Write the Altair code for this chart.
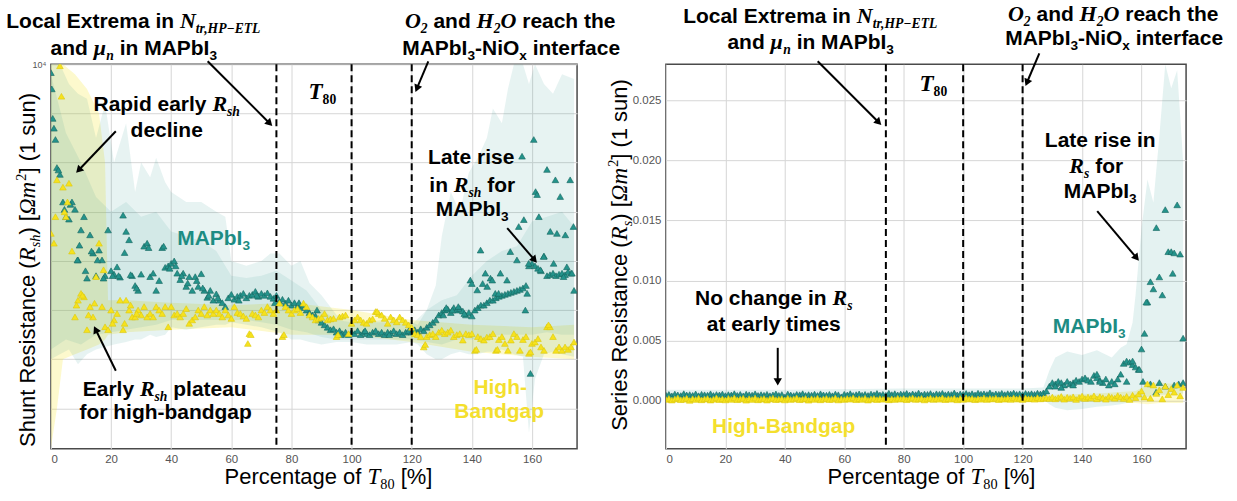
import math
import altair as alt
import pandas as pd

# ------------------------------------------------------------------ data
X = list(range(175))

# left panel: log10 of shunt resistance, one triangle per x (0..174)
rsh_mapbi3_log = [
    3.83, 2.7, 1.9, 1.76, 1.2, 0.9, 0.85, 1.2, 1.05, 0.02,
    0.63, 0.9, -0.35, 0.53, 0.16, -0.3, 0.22, 0.02, -0.3, 0.63,
    -0.2, -0.27, -0.12, -0.33, 0.93, 0.6, 0.43, -0.3, -0.5, -0.6,
    -0.27, 0.3, 0.36, -0.32, -0.25, -0.6, -0.4, 0.27, -0.13, -0.1,
    -0.05, 0.0, -0.25, -0.38, -0.25, -0.52, -0.32, -0.6, -0.32, -0.52,
    -0.26, -0.6, -0.74, -0.6, -0.8, -0.67, -0.8, -0.85, -0.93, -0.75,
    -0.68, -0.78, -0.72, -0.7, -0.66, -0.75, -0.7, -0.68, -0.62, -0.72,
    -0.66, -0.7, -0.65, -0.72, -0.76, -0.7, -0.82, -0.78, -0.86, -0.8,
    -0.9, -0.85, -0.92, -0.95, -0.9, -1.0, -1.05, -1.1, -1.12, -1.2,
    -1.25, -1.3, -1.35, -1.4, -1.38, -1.45, -1.42, -1.48, -1.45, -1.5,
    -1.45, -1.48, -1.42, -1.5, -1.45, -1.48, -1.5, -1.45, -1.42, -1.48,
    -1.45, -1.5, -1.45, -1.47, -1.42, -1.48, -1.45, -1.5, -1.45, -1.42,
    -1.45, -1.4, -1.45, -1.38, -1.42, -1.35, -1.3, -1.25, -1.2, -1.1,
    -1.05, -1.0, -0.98, -1.05, -0.95, -1.0, -0.97, -1.02, -1.1, -1.05,
    -1.12, -1.0, -0.95, -0.9, -0.9, -0.85, -0.8, -0.8, -0.75, -0.72,
    -0.7, -0.68, -0.66, -0.64, -0.62, -0.6, -0.58, -0.55, -0.5, -0.1,
    -0.05, -0.1, -0.15, -0.2, 0.1, -0.3, -0.28, -0.25, -0.3, -0.27,
    -0.25, -0.28, -0.22, -0.25, -0.6,
]
rsh_hbg_log = [
    0.56, 0.36, 1.65, 3.97, 1.5, 0.9, 1.58, 0.2, -1.14, -0.8,
    -0.66, -0.73, -1.4, -0.93, -1.14, -0.32, 0.36, -0.93, -1.34, -1.4,
    -1.0, -1.2, -1.07, -0.8, -1.4, -0.8, -1.0, -1.14, -1.14, -1.0,
    -1.1, -0.93, -1.14, -1.07, -1.14, -0.93, -1.0, -1.07, -0.93, -1.34,
    -0.93, -1.1, -1.07, -1.14, -1.07, -0.97, -1.27, -1.2, -1.14, -1.0,
    -1.07, -0.93, -1.1, -1.0, -1.07, -1.0, -1.07, -1.14, -1.0, -1.1,
    -1.17, -0.93, -1.05, -1.07, -1.12, -1.17, -1.48, -1.07, -1.1, -1.14,
    -1.0, -1.05, -0.93, -1.0, -1.07, -1.0, -0.86, -1.54, -0.93, -1.0,
    -1.07, -1.0, -0.97, -1.05, -0.86, -0.93, -1.1, -1.14, -1.2, -1.17,
    -1.15, -1.07, -1.2, -1.18, -1.17, -1.54, -1.14, -1.12, -1.1, -1.48,
    -1.27, -1.2, -1.14, -1.2, -1.25, -1.27, -1.2, -1.18, -1.03, -1.07,
    -1.1, -1.17, -1.27, -1.14, -1.2, -1.24, -1.14, -1.2, -1.25, -1.3,
    -1.35, -1.48, -1.5, -1.54, -1.75, -1.54, -1.5, -1.48, -1.54, -1.45,
    -1.41, -1.48, -1.45, -1.41, -1.54, -1.5, -1.48, -1.61, -1.48, -1.5,
    -1.48, -1.82, -1.54, -1.58, -1.61, -1.55, -1.54, -1.48, -1.82, -1.6,
    -1.54, -1.68, -1.82, -1.61, -1.48, -1.54, -1.82, -1.6, -1.54, -1.88,
    -1.68, -1.65, -1.58, -1.75, -1.82, -1.34, -1.34, -1.54, -1.82, -1.75,
    -1.82, -1.75, -1.8, -1.75, -1.65,
]
# extra scattered triangles (x, log10 value)
rsh_mapbi3_extra_x = [0.3, 0.6, 1.5, 2.5, 4.5, 6.5, 8.8, 9.5, 11.5, 13.5, 15.5, 17.5, 20.5, 22.5, 24.5,
                      26.5, 28.5, 32.5, 37.5, 39.5, 41.5, 43.5, 45.5, 48.5, 50.5, 52.5, 55.5, 62.5, 68.5,
                      74.5, 82.5, 88.5, 96.5, 104.5, 112.5, 130.5, 131.5, 133.5, 135.5, 137.5, 139.5, 140.0,
                      141.8, 142.9, 143.6, 144.5, 145.1, 146.2, 146.8, 147.8, 148.9, 149.5, 151.7, 152.8,
                      155.0, 155.6, 156.7, 157.3, 157.8, 158.4, 158.9, 159.5, 160.6, 161.2, 161.7, 162.3,
                      162.8, 163.9, 165.0, 166.1, 167.2, 167.8, 168.3, 169.4, 170.5, 171.1, 171.6, 172.7,
                      173.3, 173.8]
rsh_mapbi3_extra_log = [3.5, 2.9, 2.47, 1.85, 1.05, 1.15, 0.02, 0.32, -0.2, 0.2, 0.02, -0.35, -0.3, -0.3, 0.17,
                        -0.28, -0.55, 0.27, 0.3, -0.15, -0.1, -0.3, -0.45, -0.4, -0.55, -0.7, -0.75, -0.8, -0.7,
                        -0.85, -0.85, -1.0, -1.5, -1.42, -1.5, -1.1, -0.95, -1.0, -0.93, -1.07, -0.39, -0.46,
                        -0.59, 0.22, -0.46, -0.25, -0.52, -0.35, -0.39, -0.66, -0.66, -0.25, -0.39, 0.19,
                        0.02, 0.7, 2.13, 0.84, -1.0, -0.66, -0.05, -2.29, 2.47, 1.41, 1.35, 0.9,
                        -0.18, 0.09, 1.86, 0.6, -0.05, 1.65, 0.56, 1.31, -0.32, 0.53, -0.12, 1.65,
                        -0.25, 0.7]
rsh_hbg_extra_x = [1.5, 3.5, 4.5, 5.5, 8.5, 10.5, 12.5, 14.5, 17.5, 20.5, 24.5, 26.5, 28.5, 65.5, 66.5,
                   77.5, 95.5, 108.5, 124.5, 141.5, 148.5, 159.5, 165.5]
rsh_hbg_extra_log = [0.9, 3.35, 1.0, 1.2, -0.9, -0.7, -1.1, -0.86, -0.18, -1.27, -1.27, -0.9, -1.07, -1.68, -1.5,
                     -1.5, -1.5, -1.03, -1.7, -1.8, -1.8, -1.85, -1.3]

# left shaded spreads (log10)
rsh_mapbi3_outer_x = [0, 3, 6, 9, 12, 15, 18, 21, 25, 28, 30, 33, 35, 38, 40, 45, 50, 55, 58, 60, 65, 70, 73, 76,
                      80, 83, 86, 90, 95, 100, 105, 110, 115, 120, 122, 125, 128, 130, 133, 136, 139, 142, 145,
                      147, 150, 152, 154, 157, 159, 161, 164, 167, 170, 174]
rsh_mapbi3_outer_hi = [4.0, 4.0, 3.6, 3.4, 3.3, 2.5, 3.2, 2.0, 2.8, 1.4, 2.0, 1.7, 2.1, 1.6, 1.4, 1.2, 1.2, 1.0,
                       0.9, 0.0, -0.1, 0.0, 0.15, 0.15, -0.1, 0.0, -0.45, -0.7, -1.1, -1.2, -1.25, -1.2, -1.25,
                       -1.25, -1.3, -1.0, -0.5, 0.5, 1.4, 1.0, 1.8, 2.1, 2.5, 3.1, 2.8, 3.5, 4.0, 4.0, 3.6, 4.0,
                       3.6, 3.4, 3.8, 3.7]
rsh_mapbi3_outer_lo = [-2.0, -1.9, -1.8, -2.1, -1.9, -1.8, -1.75, -1.7, -1.65, -1.6, -1.6, -1.5, -1.55, -1.5,
                       -1.35, -1.4, -1.35, -1.3, -1.3, -1.25, -1.3, -1.35, -1.4, -1.45, -1.6, -1.6, -1.65, -1.7,
                       -1.65, -1.65, -1.7, -1.7, -1.7, -1.65, -1.7, -1.9, -2.0, -2.0, -1.9, -1.85, -1.9, -1.9,
                       -1.85, -1.85, -1.8, -1.85, -1.9, -1.95, -3.5, -2.4, -1.9, -1.85, -1.9, -1.95]
rsh_mapbi3_inner_x = [0, 5, 10, 15, 20, 25, 30, 35, 40, 45, 50, 55, 60, 65, 70, 75, 80, 85, 90, 95, 100, 110,
                      120, 125, 130, 135, 140, 145, 150, 155, 160, 165, 170, 174]
rsh_mapbi3_inner_hi = [3.8, 2.6, 2.0, 1.3, 1.0, 1.2, 0.9, 1.0, 0.6, 0.5, 0.4, 0.2, -0.3, -0.35, -0.3, -0.2, -0.4,
                       -0.6, -1.0, -1.2, -1.25, -1.25, -1.3, -1.0, -0.8, -0.7, -0.3, 0.0, 0.2, 0.3, 0.8, 0.9,
                       1.0, 0.7]
rsh_mapbi3_inner_lo = [-1.8, -1.6, -1.7, -1.5, -1.45, -1.4, -1.35, -1.3, -1.2, -1.2, -1.2, -1.2, -1.2, -1.2,
                       -1.25, -1.3, -1.4, -1.45, -1.55, -1.6, -1.6, -1.6, -1.6, -1.65, -1.7, -1.6, -1.6, -1.55,
                       -1.5, -1.5, -1.5, -1.45, -1.5, -1.5]
rsh_hbg_band_x = [0, 2, 4, 8, 12, 16, 18, 19, 25, 40, 60, 80, 100, 120, 140, 160, 174]
rsh_hbg_band_hi = [4.0, 4.0, 4.0, 3.8, 3.5, 3.0, 2.0, -0.8, -0.8, -0.85, -0.9, -0.85, -1.0, -1.2, -1.3, -1.35, -1.3]
rsh_hbg_band_lo = [-3.8, -3.0, -2.0, -1.9, -1.8, -1.7, -1.6, -1.5, -1.45, -1.4, -1.35, -1.5, -1.5, -1.65, -1.85,
                   -1.95, -2.0]

# right panel: series resistance in milli-(Ohm m^2), x = 0..174
rs_mapbi3_milli = [
    0.45, 0.52, 0.40, 0.55, 0.48, 0.42, 0.58, 0.47, 0.50, 0.44, 0.56, 0.41, 0.53, 0.49, 0.46, 0.57, 0.43, 0.51, 0.48, 0.55,
    0.42, 0.50, 0.47, 0.58, 0.44, 0.52, 0.40, 0.54, 0.49, 0.46, 0.57, 0.43, 0.50, 0.45, 0.53, 0.41, 0.48, 0.56, 0.44, 0.51,
    0.30, 0.55, 0.47, 0.42, 0.52, 0.49, 0.58, 0.44, 0.50, 0.46, 0.54, 0.43, 0.57, 0.48, 0.45, 0.52, 0.41, 0.55, 0.49, 0.32,
    0.53, 0.47, 0.58, 0.44, 0.50, 0.56, 0.46, 0.52, 0.43, 0.55, 0.49, 0.60, 0.47, 0.53, 0.45, 0.62, 0.50, 0.58, 0.48, 0.55,
    0.52, 0.60, 0.47, 0.56, 0.50, 0.63, 0.48, 0.55, 0.52, 0.59, 0.46, 0.57, 0.53, 0.61, 0.49, 0.55, 0.51, 0.64, 0.48, 0.56,
    0.53, 0.60, 0.50, 0.58, 0.47, 0.62, 0.54, 0.57, 0.51, 0.65, 0.49, 0.56, 0.53, 0.61, 0.50, 0.58, 0.55, 0.63, 0.52, 0.57,
    0.50, 0.60, 0.54, 0.58, 0.52, 0.62, 0.56, 0.65,
    0.8, 1.2, 1.5, 1.4, 1.6, 1.5, 1.3, 1.6, 1.4, 1.5, 1.7, 1.6, 1.8, 1.9, 1.7, 1.6, 2.1, 1.9, 1.7, 1.5,
    1.8, 1.3, 1.6, 1.4, 1.8, 2.2, 3.1, 3.3, 3.2, 3.0, 2.8, 2.6, 4.3, 5.6, 8.2, 9.9, 9.3, 14.4, 10.3, 8.8,
    15.9, 12.4, 12.4, 12.3, 16.3, 12.2, 5.2,
]
rs_hbg_milli = [
    0.10, 0.18, 0.05, 0.15, 0.22, 0.08, 0.12, 0.20, 0.03, 0.16, 0.10, 0.21, 0.07, 0.14, 0.18, 0.05, 0.12, 0.23, 0.09, 0.15,
    0.06, 0.19, 0.11, 0.24, 0.08, 0.14, 0.20, 0.04, 0.16, 0.10, 0.22, 0.07, 0.13, 0.18, 0.05, 0.15, 0.21, 0.09, 0.12, 0.17,
    0.06, 0.20, 0.10, 0.15, 0.23, 0.08, 0.13, 0.18, 0.04, 0.16, 0.11, 0.21, 0.07, 0.14, 0.19, 0.09, 0.12, 0.22, 0.06, 0.15,
    0.10, 0.18, 0.13, 0.24, 0.08, 0.16, 0.11, 0.20, 0.05, 0.14, 0.19, 0.09, 0.17, 0.12, 0.22, 0.07, 0.15, 0.10, 0.20, 0.13,
    0.18, 0.08, 0.16, 0.23, 0.11, 0.14, 0.19, 0.06, 0.15, 0.21, 0.10, 0.17, 0.12, 0.24, 0.09, 0.16, 0.13, 0.20, 0.07, 0.18,
    0.11, 0.22, 0.14, 0.19, 0.08, 0.16, 0.12, 0.23, 0.10, 0.18, 0.15, 0.21, 0.09, 0.17, 0.13, 0.20, 0.11, 0.24, 0.14, 0.19,
    0.10, 0.22, 0.16, 0.18, 0.12, 0.25, 0.15, 0.20,
    0.22, 0.18, 0.30, 0.15, 0.25, 0.35, 0.12, 0.28, 0.20, 0.32, 0.10, 0.26, 0.38, 0.18, 0.30, 0.22, 0.40, 0.15, 0.33, 0.25,
    0.12, 0.36, 0.28, 0.20, 0.42, 0.30, 0.18, 0.35, 0.10, 0.45, 0.25, 0.55, 0.80, 0.30, 1.40, 0.20, 1.30, 0.60, 0.90, 0.15,
    1.20, 0.50, 1.00, 0.70, 1.30, 0.40, 1.10,
]
rs_mapbi3_extra_x = [131, 133, 137, 145, 146, 155, 157, 159.3, 160.5, 161.6, 163, 164.9, 166, 168, 170.5, 171,
                     172.5, 174]
rs_mapbi3_extra_milli = [1.2, 1.1, 1.3, 2.2, 1.6, 1.6, 3.3, 2.6, 1.6, 8.2, 1.4, 0.7, 1.5, 1.2, 10.6, 1.3, 1.4, 1.5]
rs_mapbi3_band_x = [0, 40, 80, 120, 127, 129, 131, 135, 140, 145, 150, 153, 155, 157, 158, 160, 162, 164, 166,
                    168, 170, 172, 174]
rs_mapbi3_band_hi = [0.9, 0.9, 1.0, 1.0, 1.1, 2.5, 3.6, 4.1, 3.8, 4.2, 3.6, 4.4, 4.7, 6.5, 8.8, 14.3, 18.4, 16.5,
                     22.0, 28.0, 26.0, 27.5, 20.0]
rs_mapbi3_band_lo = [0.15, 0.15, 0.2, 0.2, 0.1, -0.3, -0.6, -0.8, -0.7, -0.5, -0.4, -0.3, -0.2, -0.1, 0.0, 0.1,
                     0.3, 0.4, 0.5, 0.5, 0.5, 0.5, 0.6]
rs_hbg_band_x = [0, 60, 120, 130, 145, 158, 162, 166, 170, 174]
rs_hbg_band_hi = [0.35, 0.35, 0.4, 0.5, 0.6, 0.8, 1.3, 1.5, 1.4, 1.5]
rs_hbg_band_lo = [-0.15, -0.15, -0.15, -0.1, -0.1, -0.2, -0.3, -0.2, -0.2, -0.2]

t80_marks_left = [75, 100, 120]
t80_marks_right = [74, 100, 120]
x_ticks = [0, 20, 40, 60, 80, 100, 120, 140, 160]
rsh_grid = [1e-3, 1e-2, 1e-1, 1e0, 1e1, 1e2, 1e3, 1e4]
rs_ticks = [0.0, 0.005, 0.010, 0.015, 0.020, 0.025]

# ------------------------------------------------------------------ styling
TEAL, TEAL_EDGE, TEAL_TXT = "#24938b", "#15675f", "#1d8c83"
YEL, YEL_EDGE, YEL_TXT = "#f6e21d", "#dcc70e", "#f4df2e"
SANS, SERIF = "Liberation Sans", "Liberation Serif"
WL, WR, H = 527, 521, 385
OL, OR = (50, 63), (666, 63)
ONE = alt.Data(values=[{"k": 0}])


def _tab(up, low, digit, extra):
    d = dict(zip("ABCDEFGHIJKLMNOPQRSTUVWXYZ", up))
    d.update(zip("abcdefghijklmnopqrstuvwxyz", low))
    d.update({c: digit for c in "0123456789"})
    d.update(extra)
    return d


W_R = _tab([667, 667, 722, 722, 667, 611, 778, 722, 278, 500, 667, 556, 833, 722, 778, 667, 778, 722, 667, 611, 722, 667, 944, 667, 667, 611],
           [556, 556, 500, 556, 556, 278, 556, 556, 222, 222, 500, 222, 833, 556, 556, 556, 556, 333, 500, 278, 556, 500, 722, 500, 500, 500],
           556, {" ": 278, "(": 333, ")": 333, "[": 278, "]": 278, "%": 889, "-": 333})
W_B = _tab([722, 722, 722, 722, 667, 611, 778, 722, 278, 556, 722, 611, 833, 722, 778, 667, 778, 722, 667, 611, 722, 667, 944, 667, 667, 611],
           [556, 611, 556, 611, 556, 333, 611, 611, 278, 278, 556, 278, 889, 611, 611, 611, 611, 389, 556, 333, 611, 556, 778, 556, 556, 500],
           556, {" ": 278, "(": 333, ")": 333, "-": 333})
W_MB = _tab([667, 667, 667, 722, 667, 667, 722, 778, 389, 500, 667, 611, 889, 722, 722, 611, 722, 667, 556, 611, 722, 667, 889, 667, 611, 611],
            [500, 500, 444, 500, 444, 333, 500, 556, 278, 278, 500, 278, 778, 556, 500, 500, 500, 389, 389, 278, 556, 444, 667, 500, 444, 389],
            500, {" ": 250, ",": 250, "\u2212": 606, "\u03bc": 576})
W_M = _tab([611, 611, 667, 722, 611, 611, 722, 722, 333, 444, 667, 556, 833, 667, 722, 611, 722, 611, 500, 556, 722, 611, 833, 611, 556, 556],
           [500, 500, 444, 500, 444, 278, 500, 500, 278, 278, 444, 278, 722, 500, 500, 500, 500, 389, 389, 278, 500, 444, 667, 444, 444, 389],
           500, {" ": 250, "\u03a9": 768})
STY = {"B": (SANS, "bold", "normal", W_B), "R": (SANS, "normal", "normal", W_R),
       "MB": (SERIF, "bold", "italic", W_MB), "M": (SERIF, "normal", "italic", W_M),
       "SB": (SERIF, "bold", "normal", W_MB), "S": (SERIF, "normal", "normal", W_M)}
SUB = (0.65, 0.24)
SUP = (0.65, -0.4)


def _w(txt, tab, fs):
    return sum(tab.get(c, 556) for c in txt) * fs / 1000.0


def rich(segs, x, y, origin, size=21, color="black", align="center", angle=0):
    parts = []
    for s in segs:
        txt, kind = s[0], s[1]
        rel, shift = (s[2], s[3]) if len(s) > 2 else (1.0, 0.0)
        font, weight, style, tab = STY[kind]
        fs = size * rel
        lead = len(txt) - len(txt.lstrip(" "))
        parts.append((txt.strip(" "), font, weight, style, fs, shift * size,
                      _w(txt, tab, fs), _w(" " * lead, tab, fs)))
    total = sum(p[6] for p in parts)
    off = -total / 2.0 if align == "center" else 0.0
    out = []
    for txt, font, weight, style, fs, dy, w, lw in parts:
        out.append(
            alt.Chart(ONE).mark_text(
                text=txt, font=font, fontWeight=weight, fontStyle=style, fontSize=fs, color=color,
                align="left", baseline="alphabetic", angle=angle, dx=off + lw, dy=dy,
            ).encode(x=alt.value(x - origin[0]), y=alt.value(y - origin[1]))
        )
        off += w
    return out


def arrow(x1, y1, x2, y2, origin):
    ox, oy = origin
    dx, dy = x2 - x1, y2 - y1
    ln = math.hypot(dx, dy)
    ux, uy = dx / ln, dy / ln
    ang = math.degrees(math.atan2(ux, -uy)) % 360
    rule = alt.Chart(ONE).mark_rule(color="black", strokeWidth=2).encode(
        x=alt.value(x1 - ox), y=alt.value(y1 - oy),
        x2=alt.value(x2 - 6 * ux - ox), y2=alt.value(y2 - 6 * uy - oy))
    head = alt.Chart(ONE).mark_point(shape="triangle-up", filled=True, color="black", size=70,
                                      angle=ang, opacity=1, strokeWidth=0).encode(
        x=alt.value(x2 - 4 * ux - ox), y=alt.value(y2 - 4 * uy - oy))
    return [rule, head]


def anchor(x, y, origin):
    return alt.Chart(ONE).mark_point(filled=True, color="white", size=1, opacity=1, strokeWidth=0).encode(
        x=alt.value(x - origin[0]), y=alt.value(y - origin[1]))


# ------------------------------------------------------------------ shared pieces
xs = alt.Scale(domain=[0, 175], nice=False, zero=False)
x_axis = alt.Axis(values=x_ticks, title=None, grid=True)

ysL = alt.Scale(type="log", domain=[10 ** -3.82, 1e4], nice=False)
yL_axis = alt.Axis(values=rsh_grid, title=None, grid=True, labelFontSize=9,
                   labelExpr="datum.value >= 9999 ? '10\u2074' : ''")


def band_df(xv, hi, lo, f):
    return pd.DataFrame({"x": xv, "hi": [f(v) for v in hi], "lo": [f(v) for v in lo]})


def pts_df(xv, yv, f):
    return pd.DataFrame({"x": xv, "v": [f(v) for v in yv]})


p10 = lambda v: 10 ** v
milli = lambda v: v / 1000.0


def band(df, color, op, ys, yax):
    return alt.Chart(df).mark_area(color=color, opacity=op, clip=True).encode(
        x=alt.X("x:Q", scale=xs, axis=x_axis), y=alt.Y("hi:Q", scale=ys, axis=yax), y2="lo:Q")


def pts(df, fill, stroke, ys, yax):
    return alt.Chart(df).mark_point(shape="triangle-up", filled=True, size=44, fill=fill, stroke=stroke,
                                    strokeWidth=0.6, opacity=1, clip=True).encode(
        x=alt.X("x:Q", scale=xs, axis=x_axis), y=alt.Y("v:Q", scale=ys, axis=yax))


def dashed(vals):
    return alt.Chart(pd.DataFrame({"x": vals})).mark_rule(color="black", strokeWidth=2, strokeDash=[7, 4]).encode(
        x=alt.X("x:Q", scale=xs, axis=x_axis))


# ------------------------------------------------------------------ left panel
left_layers = [
    band(band_df(rsh_hbg_band_x, rsh_hbg_band_hi, rsh_hbg_band_lo, p10), YEL, 0.22, ysL, yL_axis),
    band(band_df(rsh_mapbi3_outer_x, rsh_mapbi3_outer_hi, rsh_mapbi3_outer_lo, p10), TEAL, 0.11, ysL, yL_axis),
    band(band_df(rsh_mapbi3_inner_x, rsh_mapbi3_inner_hi, rsh_mapbi3_inner_lo, p10), TEAL, 0.1, ysL, yL_axis),
    pts(pts_df(X, rsh_mapbi3_log, p10), TEAL, TEAL_EDGE, ysL, yL_axis),
    pts(pts_df(rsh_mapbi3_extra_x, rsh_mapbi3_extra_log, p10), TEAL, TEAL_EDGE, ysL, yL_axis),
    pts(pts_df(X, rsh_hbg_log, p10), YEL, YEL_EDGE, ysL, yL_axis),
    pts(pts_df(rsh_hbg_extra_x, rsh_hbg_extra_log, p10), YEL, YEL_EDGE, ysL, yL_axis),
    dashed(t80_marks_left),
]

o = OL
ann = []
ann += rich([("Local Extrema in ", "B"), ("N", "MB", 1.05, 0), ("tr,HP\u2212ETL", "MB", *SUB)], 133, 27, o)
ann += rich([("and ", "B"), ("\u03bc", "MB", 1.05, 0), ("n", "MB", *SUB), (" in MAPbI", "B"), ("3", "B", *SUB)], 133, 54, o)
ann += rich([("O", "MB", 1.05, 0), ("2", "MB", *SUB), (" and ", "B"), ("H", "MB", 1.05, 0), ("2", "MB", *SUB),
             ("O", "MB", 1.05, 0), (" reach the", "B")], 510, 27, o)
ann += rich([("MAPbI", "B"), ("3", "B", *SUB), ("-NiO", "B"), ("x", "B", *SUB), (" interface", "B")], 511, 54, o)
ann += rich([("T", "MB", 1.1, 0), ("80", "SB", *SUB)], 308, 98, o, align="left")
ann += rich([("Rapid early ", "B"), ("R", "MB", 1.05, 0), ("sh", "MB", *SUB)], 166, 110, o)
ann += rich([("decline", "B")], 166, 136, o)
ann += rich([("MAPbI", "B"), ("3", "B", *SUB)], 213, 244, o, color=TEAL_TXT)
ann += rich([("Early ", "B"), ("R", "MB", 1.05, 0), ("sh", "MB", *SUB), (" plateau", "B")], 164, 395, o)
ann += rich([("for high-bandgap", "B")], 165, 418, o)
ann += rich([("Late rise", "B")], 471, 163, o)
ann += rich([("in ", "B"), ("R", "MB", 1.05, 0), ("sh", "MB", *SUB), (" for", "B")], 472, 191, o)
ann += rich([("MAPbI", "B"), ("3", "B", *SUB)], 472, 215, o)
ann += rich([("High-", "B")], 500, 393, o, color=YEL_TXT)
ann += rich([("Bandgap", "B")], 499, 417, o, color=YEL_TXT)
ann += rich([("Percentage of ", "R"), ("T", "M", 1.05, 0), ("80", "S", *SUB), (" [%]", "R")], 328, 483, o, size=22)
ann += rich([("Shunt Resistance (", "R"), ("R", "M", 1.05, 0), ("sh", "M", *SUB), (") [", "R"), ("\u03a9m", "M", 1.05, 0),
             ("2", "S", *SUP), ("] (1 sun)", "R")], 34, 269, o, size=22, angle=270)
ann += arrow(207, 60, 272, 125, o)
ann += arrow(115, 130, 75, 172, o)
ann += arrow(115, 370, 93, 325, o)
ann += arrow(428, 60, 415, 91, o)
ann += arrow(507, 227, 537, 262, o)
ann.append(anchor(0.5, 0.5, o))

left = alt.layer(*(left_layers + ann)).properties(width=WL, height=H)

# ------------------------------------------------------------------ right panel
ysR = alt.Scale(domain=[-0.004, 0.028], nice=False, zero=False)
yR_axis = alt.Axis(values=rs_ticks, title=None, grid=True, format=".3f")

right_layers = [
    band(band_df(rs_hbg_band_x, rs_hbg_band_hi, rs_hbg_band_lo, milli), YEL, 0.22, ysR, yR_axis),
    band(band_df(rs_mapbi3_band_x, rs_mapbi3_band_hi, rs_mapbi3_band_lo, milli), TEAL, 0.12, ysR, yR_axis),
    pts(pts_df(X, rs_mapbi3_milli, milli), TEAL, TEAL_EDGE, ysR, yR_axis),
    pts(pts_df(rs_mapbi3_extra_x, rs_mapbi3_extra_milli, milli), TEAL, TEAL_EDGE, ysR, yR_axis),
    pts(pts_df(X, rs_hbg_milli, milli), YEL, YEL_EDGE, ysR, yR_axis),
    dashed(t80_marks_right),
]

o = OR
annR = []
annR += rich([("Local Extrema in ", "B"), ("N", "MB", 1.05, 0), ("tr,HP\u2212ETL", "MB", *SUB)], 811, 22, o)
annR += rich([("and ", "B"), ("\u03bc", "MB", 1.05, 0), ("n", "MB", *SUB), (" in MAPbI", "B"), ("3", "B", *SUB)], 811, 48, o)
annR += rich([("O", "MB", 1.05, 0), ("2", "MB", *SUB), (" and ", "B"), ("H", "MB", 1.05, 0), ("2", "MB", *SUB),
              ("O", "MB", 1.05, 0), (" reach the", "B")], 1114, 20, o)
annR += rich([("MAPbI", "B"), ("3", "B", *SUB), ("-NiO", "B"), ("x", "B", *SUB), (" interface", "B")], 1115, 44, o)
annR += rich([("T", "MB", 1.1, 0), ("80", "SB", *SUB)], 920, 90, o, align="left")
annR += rich([("Late rise in", "B")], 1101, 146, o)
annR += rich([("R", "MB", 1.05, 0), ("s", "MB", *SUB), (" for", "B")], 1097, 172, o)
annR += rich([("MAPbI", "B"), ("3", "B", *SUB)], 1101, 197, o)
annR += rich([("No change in ", "B"), ("R", "MB", 1.05, 0), ("s", "MB", *SUB)], 774, 304, o)
annR += rich([("at early times", "B")], 774, 330, o)
annR += rich([("MAPbI", "B"), ("3", "B", *SUB)], 1090, 332, o, color=TEAL_TXT)
annR += rich([("High-Bandgap", "B")], 784, 432, o, color=YEL_TXT)
annR += rich([("Percentage of ", "R"), ("T", "M", 1.05, 0), ("80", "S", *SUB), (" [%]", "R")], 932, 483, o, size=22)
annR += rich([("Series Resistance (", "R"), ("R", "M", 1.05, 0), ("s", "M", *SUB), (") [", "R"), ("\u03a9m", "M", 1.05, 0),
              ("2", "S", *SUP), ("] (1 sun)", "R")], 627, 254, o, size=22, angle=270)
annR += arrow(818, 60, 882, 124, o)
annR += arrow(778, 347, 778, 385, o)
annR += arrow(1040, 52, 1026, 85, o)
annR += arrow(1098, 210, 1140, 260, o)
annR.append(anchor(1236, 500, o))

right = alt.layer(*(right_layers + annR)).properties(width=WR, height=H)

chart = (
    alt.hconcat(left, right, spacing=OR[0] - OL[0] - WL, bounds="flush")
    .properties(padding=0, background="white")
    .configure_view(stroke="#4a4a4a", strokeWidth=1.5)
    .configure_axis(gridColor="#d6d6d6", gridWidth=1, domain=False, ticks=False, labelFont=SANS,
                    labelFontSize=11.5, labelColor="#555555", labelPadding=5)
)

chart.save("out.html", embed_options={"renderer": "svg", "actions": False})
